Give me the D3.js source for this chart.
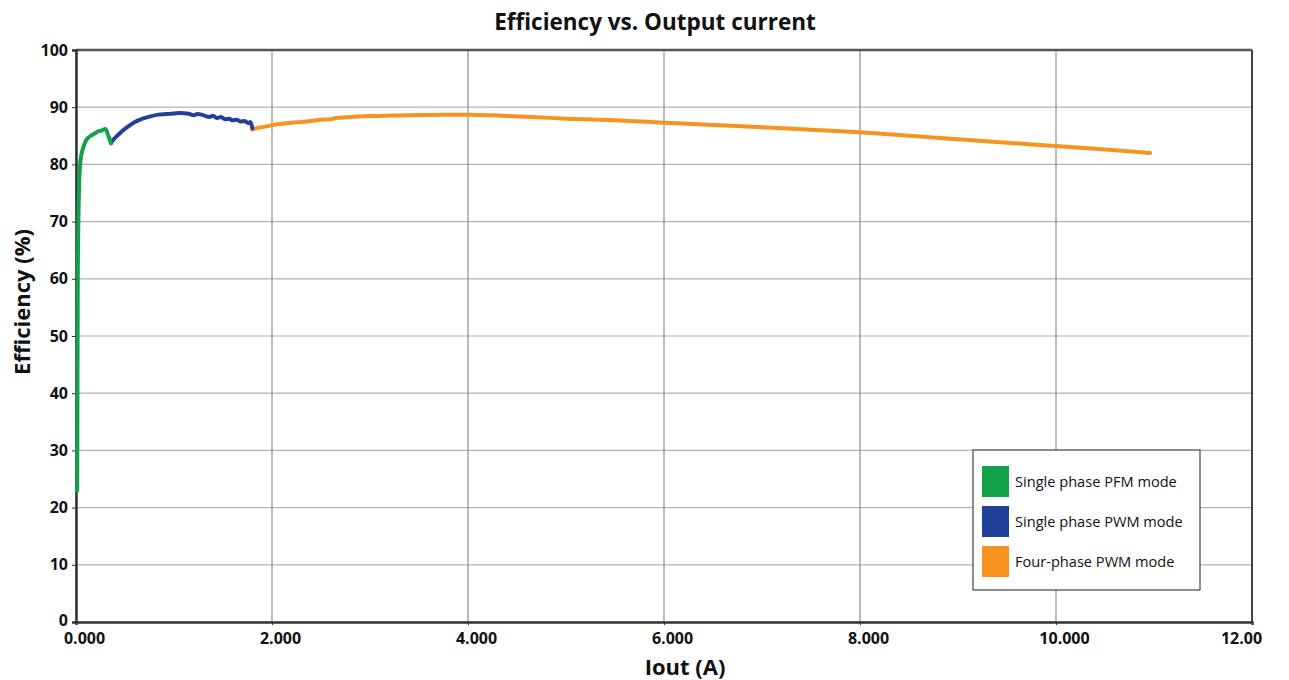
<!DOCTYPE html>
<html>
<head>
<meta charset="utf-8">
<script src="https://cdn.jsdelivr.net/npm/d3@7"></script>
<style>
  body { margin: 0; background: #fff; }
  text { font-family: "Open Sans", sans-serif; fill: #111; }
</style>
</head>
<body>
<svg width="1289" height="680"></svg>
<script>
// single phase PFM mode (green)
const pfmX = [0.012, 0.014, 0.016, 0.018, 0.021, 0.025, 0.031, 0.040, 0.052, 0.068, 0.085, 0.10, 0.12, 0.15, 0.17, 0.20, 0.23, 0.26, 0.28, 0.30, 0.33, 0.357];
const pfmY = [23, 35, 48, 60, 66, 71, 76, 79.6, 81.4, 82.6, 83.5, 84.1, 84.6, 85.0, 85.2, 85.5, 85.8, 85.9, 86.1, 86.2, 85.0, 83.7];

// single phase PWM mode (blue)
const pwmX = [0.357, 0.38, 0.42, 0.47, 0.53, 0.60, 0.68, 0.76, 0.84, 0.92, 1.00, 1.06, 1.12, 1.16, 1.20, 1.24, 1.28, 1.33, 1.36, 1.40, 1.44, 1.48, 1.52, 1.56, 1.60, 1.64, 1.68, 1.72, 1.76, 1.78, 1.80];
const pwmY = [83.7, 84.3, 85.0, 85.8, 86.6, 87.4, 88.0, 88.4, 88.7, 88.8, 88.9, 89.0, 88.9, 88.8, 88.6, 88.8, 88.7, 88.4, 88.3, 88.5, 88.1, 88.3, 87.9, 88.0, 87.7, 87.8, 87.5, 87.6, 87.2, 87.4, 86.3];

// four-phase PWM mode (orange)
const fourX = [1.80, 1.86, 1.93, 2.01, 2.10, 2.20, 2.30, 2.40, 2.50, 2.60, 2.65, 2.80, 3.00, 3.25, 3.50, 3.75, 4.00, 4.35, 4.70, 5.00, 5.50, 6.00, 6.50, 7.00, 7.50, 8.00, 8.50, 9.00, 9.50, 10.00, 10.50, 10.96];
const fourY = [86.1, 86.4, 86.6, 86.9, 87.1, 87.3, 87.4, 87.6, 87.8, 87.9, 88.1, 88.3, 88.45, 88.55, 88.65, 88.7, 88.7, 88.5, 88.25, 88.0, 87.7, 87.3, 86.9, 86.5, 86.05, 85.6, 85.0, 84.4, 83.8, 83.2, 82.6, 82.0];

const xTicks = [0, 2, 4, 6, 8, 10, 12];
const xTickLabels = ["0.000", "2.000", "4.000", "6.000", "8.000", "10.000", "12.00"];
const yTicks = [0, 10, 20, 30, 40, 50, 60, 70, 80, 90, 100];

const seriesNames = ["Single phase PFM mode", "Single phase PWM mode", "Four-phase PWM mode"];
const seriesColors = ["#13a04a", "#21409a", "#f7941d"];

const svg = d3.select('svg');
const margin = {top: 50, right: 37, bottom: 58, left: 76};
const width = +svg.attr('width');
const height = +svg.attr('height');
const chartWidth = width - margin.left - margin.right;
const chartHeight = height - margin.top - margin.bottom;

const x = d3.scaleLinear().domain([0, 12]).range([0, chartWidth]);
const y = d3.scaleLinear().domain([0, 100]).range([chartHeight, 0]);

const chartArea = svg.append('g')
    .attr('transform', `translate(${margin.left},${margin.top})`);

// horizontal gridlines
chartArea.selectAll('.hgrid').data(yTicks).enter().append('line')
    .attr('x1', 0).attr('x2', chartWidth)
    .attr('y1', d => y(d)).attr('y2', d => y(d))
    .attr('stroke', '#b4b4b4').attr('stroke-width', 1.2);

// vertical gridlines
chartArea.selectAll('.vgrid').data(xTicks).enter().append('line')
    .attr('x1', d => x(d)).attr('x2', d => x(d))
    .attr('y1', 0).attr('y2', chartHeight)
    .attr('stroke', '#8c8c8c').attr('stroke-width', 1.2);

// frame
chartArea.append('line').attr('x1', 0).attr('x2', chartWidth).attr('y1', 0).attr('y2', 0)
    .attr('stroke', '#555').attr('stroke-width', 2.5);
chartArea.append('line').attr('x1', chartWidth).attr('x2', chartWidth).attr('y1', 0).attr('y2', chartHeight)
    .attr('stroke', '#444').attr('stroke-width', 2);

// axes
const yAxis = d3.axisLeft(y).tickValues(yTicks).tickSize(4).tickFormat(d3.format('d'));
const gy = chartArea.append('g').call(yAxis);
gy.select('.domain').attr('stroke', '#333').attr('stroke-width', 2.5);
gy.selectAll('.tick line').attr('stroke', '#333');
gy.selectAll('.tick text').attr('x', -8).attr('dy', d => d === 0 ? '0.2em' : '0.32em')
    .style('font-size', '16px').style('font-weight', 'bold').attr('fill', '#111');

const xAxis = d3.axisBottom(x).tickValues(xTicks).tickSize(3).tickFormat((d, i) => xTickLabels[i]);
const gx = chartArea.append('g').attr('transform', `translate(0,${chartHeight})`).call(xAxis);
gx.select('.domain').attr('stroke', '#333').attr('stroke-width', 2.5);
gx.selectAll('.tick line').attr('stroke', '#333');
gx.selectAll('.tick text')
    .attr('dx', (d, i) => i === xTicks.length - 1 ? -11 : 8)
    .attr('y', 11)
    .style('font-size', '16px').style('font-weight', 'bold').attr('fill', '#111');

// lines
const line = d3.line().x(d => x(d[0])).y(d => y(d[1])).curve(d3.curveMonotoneX);
const series = [
    d3.zip(pfmX, pfmY),
    d3.zip(pwmX, pwmY),
    d3.zip(fourX, fourY)
];
// draw orange, blue, then green
[2, 1, 0].forEach(i => {
    chartArea.append('path')
        .datum(series[i])
        .attr('fill', 'none')
        .attr('stroke', seriesColors[i])
        .attr('stroke-width', 4)
        .attr('stroke-linejoin', 'round')
        .attr('stroke-linecap', 'round')
        .attr('d', line);
});

// title
svg.append('text')
    .attr('x', 655).attr('y', 30)
    .attr('text-anchor', 'middle')
    .style('font-size', '22.5px').style('font-weight', 'bold')
    .text('Efficiency vs. Output current');

// axis titles
svg.append('text')
    .attr('x', 685).attr('y', 675)
    .attr('text-anchor', 'middle')
    .style('font-size', '22px').style('font-weight', 'bold')
    .text('Iout (A)');

svg.append('text')
    .attr('transform', 'translate(30,302) rotate(-90)')
    .attr('text-anchor', 'middle')
    .style('font-size', '22px').style('font-weight', 'bold')
    .text('Efficiency (%)');

// legend
const legend = svg.append('g').attr('transform', 'translate(973,450)');
legend.append('rect')
    .attr('width', 227).attr('height', 140)
    .attr('fill', '#fff').attr('stroke', '#444').attr('stroke-width', 1.2);
seriesNames.forEach((name, i) => {
    const row = legend.append('g').attr('transform', `translate(9,${16 + i * 40})`);
    row.append('rect').attr('width', 27).attr('height', 31).attr('fill', seriesColors[i]);
    row.append('text').attr('x', 33).attr('y', 21)
        .style('font-size', '14.6px').attr('fill', '#222')
        .text(name);
});
</script>
</body>
</html>
